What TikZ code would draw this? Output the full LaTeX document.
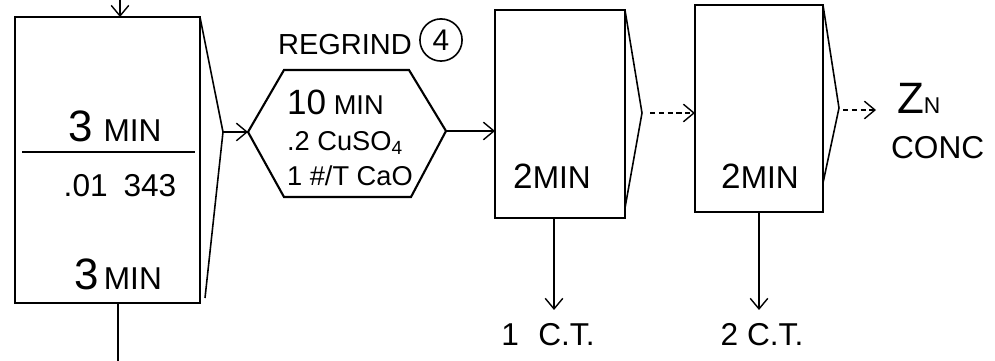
\documentclass[tikz,border=0pt]{standalone}
\usepackage{fontspec}
\setmainfont{Liberation Sans}
\usetikzlibrary{arrows.meta}
\begin{document}
\begin{tikzpicture}[x=0.02cm,y=-0.02cm,
  tank/.style={draw,line width=1.4pt,rectangle,inner sep=0pt,outer sep=0pt},
  wedge/.style={line width=0.9pt,line join=miter},
  flow/.style={line width=0.8pt,-{Straight Barb[length=6pt,width=10pt]}},
  dflow/.style={flow,densely dashed},
  lab/.style={font=\fontsize{18}{20}\selectfont,inner sep=1pt},
  hexlab/.style={font=\fontsize{15.5}{20}\selectfont,align=left,inner sep=1pt}
]
\useasboundingbox (0,0) rectangle (995,361);
\newcommand{\bignum}[1]{{\fontsize{25}{26}\selectfont #1}}
\newcommand{\midnum}[1]{{\fontsize{20}{20}\selectfont #1}}

% ---- first cell (rougher) ----
\node[tank,minimum width=3.7cm,minimum height=5.72cm] (b1) at (107.5,160) {};
\draw[line width=1.2pt] (22,152) -- (195,152);
\node[lab] (t1a) at (115,126) {\bignum{3}\,\,MIN};
\node[lab] (t1b) at (120,186) {.01\enspace 343};
\node[lab] (t1c) at (118,274) {\bignum{3}\,MIN};
\coordinate (in1) at (120,0);
\draw[flow] (in1) -- (b1.north -| in1);
\coordinate (tail1) at (118,361);
\draw[line width=1.2pt] (b1.south -| tail1) -- (tail1);
\coordinate (w1) at (223,132);
\draw[wedge] (b1.north east) -- (w1) -- (205,298);

% ---- regrind ----
\coordinate (hL) at (248,132);
\coordinate (hR) at (446,131);
\draw[line width=1.2pt,line join=miter] (hL) -- (284,70) -- (409,70) -- (hR) -- (411,197) -- (284,197) -- cycle;
\node[hexlab,anchor=west] (t2) at (285,138) {\midnum{10} MIN\\.2 CuSO\textsubscript{4}\\1 \#/T CaO};
\node[lab,font=\fontsize{16.5}{18}\selectfont] (rg) at (345,45) {REGRIND};
\node[circle,draw,line width=0.9pt,minimum size=24pt,inner sep=0pt,font=\fontsize{17}{17}\selectfont] (c4) at (441,40) {4};
\draw[flow] (w1) -- (hL);

% ---- second cell ----
\node[tank,minimum width=2.6cm,minimum height=4.16cm] (b2) at (560,114) {};
\node[lab] (t3) at (552,176) {\midnum{2}MIN};
\coordinate (w2) at (642,113);
\draw[wedge] (b2.north east) -- (w2) -- (625,208);
\draw[flow] (hR) -- (b2.west |- hR);
\coordinate (ct1) at (554,310);
\draw[flow] (b2.south -| ct1) -- (ct1);
\node[lab] (l1) at (548,335) {1\,\, C.T.};

% ---- third cell ----
\node[tank,minimum width=2.56cm,minimum height=4.14cm] (b3) at (759,108.5) {};
\node[lab] (t4) at (760,176) {\midnum{2}MIN};
\coordinate (w3) at (839,108);
\draw[wedge] (b3.north east) -- (w3) -- (823,183);
\coordinate (s2) at (650,113);
\draw[dflow] (s2) -- (b3.west |- s2);
\coordinate (ct2) at (759,310);
\draw[flow] (b3.south -| ct2) -- (ct2);
\node[lab] (l2) at (762,335) {2 C.T.};

% ---- product ----
\coordinate (s3) at (843,110);
\coordinate (e3) at (876,110);
\draw[dflow] (s3) -- (e3);
\node[lab,anchor=west] (zn) at (895,98) {\bignum{Z}{\fontsize{13}{13}\selectfont N}};
\node[lab,anchor=west] (cc) at (889,148) {CONC};
\end{tikzpicture}
\end{document}
